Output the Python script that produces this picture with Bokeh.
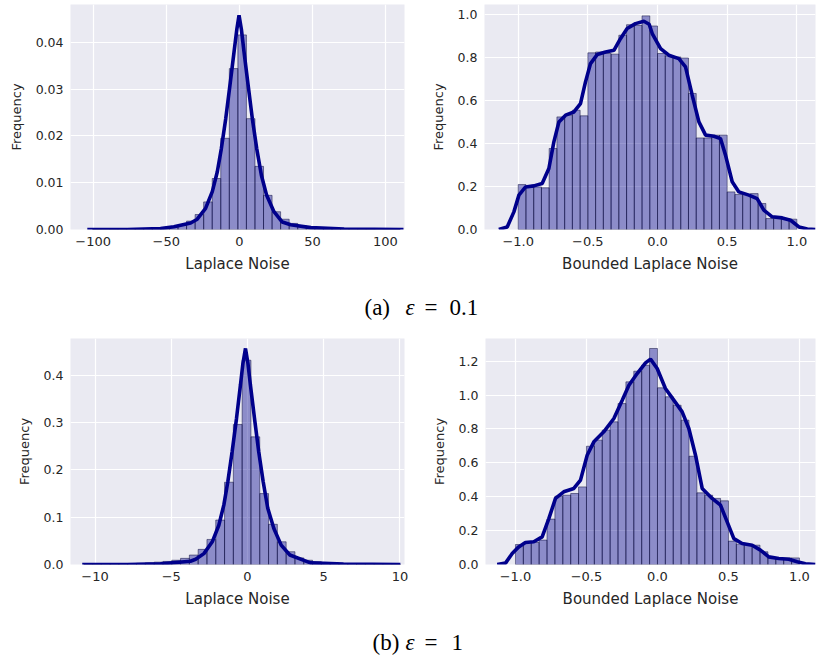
import numpy as np
from bokeh.plotting import figure
from bokeh.models import Range1d, FixedTicker, Label
from bokeh.layouts import column, row
from bokeh.embed import file_html
from bokeh.resources import INLINE

# ---------------- data ----------------
# (a) epsilon = 0.1 : Laplace noise (36 bins)
lap_a_bins = (-100.45, 110.15, 36)
lap_a_freq = [0.00002, 0.00002, 0.00003, 0.00005, 0.00008, 0.00012, 0.0002, 0.0003, 0.0004,
              0.0006, 0.0009, 0.0018, 0.0032, 0.0059, 0.0109, 0.0195, 0.0344, 0.0416,
              0.0237, 0.0135, 0.0073, 0.0038, 0.0022, 0.0013, 0.0008, 0.0005, 0.0003,
              0.0002, 0.00015, 0.0001, 0.00006, 0.00004, 0.00003, 0.00002, 0.00001, 0.00001]
lap_a_kde_x = [-104, -76.7, -53.9, -44.8, -33.3, -28.8, -23.1, -18.5, -15.1, -12.3, -9.3, -6.4,
               -3.6, -1.7, -0.2, 1.4, 3.2, 6.0, 8.9, 11.9, 15.1, 18.7, 23.7, 29.4, 35.1, 48.9,
               71.7, 112.3]
lap_a_kde_y = [0, 0, 0.0002, 0.0006, 0.0014, 0.0022, 0.0045, 0.0081, 0.0123, 0.0173, 0.0237,
               0.0309, 0.038, 0.0428, 0.0458, 0.0428, 0.038, 0.0309, 0.0237, 0.0173, 0.0116,
               0.0073, 0.0038, 0.0016, 0.0010, 0.0004, 0.0001, 0]

# (a) epsilon = 0.1 : Bounded Laplace noise (36 bins on [-1, 1])
blap_a_bins = (-1.0, 1.0, 36)
blap_a_freq = [0.209, 0.198, 0.198, 0.194, 0.377, 0.524, 0.532, 0.555, 0.529, 0.822, 0.826,
               0.819, 0.816, 0.904, 0.953, 0.950, 0.994, 0.947, 0.819, 0.808, 0.803, 0.798,
               0.633, 0.426, 0.426, 0.439, 0.439, 0.175, 0.163, 0.163, 0.167, 0.121, 0.051,
               0.051, 0.051, 0.048]
blap_a_kde_x = [-1.139, -1.079, -1.031, -0.995, -0.947, -0.888, -0.828, -0.780, -0.744, -0.708,
                -0.660, -0.600, -0.553, -0.517, -0.481, -0.433, -0.373, -0.313, -0.266, -0.218,
                -0.158, -0.098, -0.060, -0.038, 0.022, 0.081, 0.153, 0.201, 0.249, 0.297, 0.345,
                0.405, 0.452, 0.488, 0.536, 0.584, 0.656, 0.715, 0.763, 0.823, 0.895, 0.955,
                1.015, 1.075, 1.134]
blap_a_kde_y = [0, 0.012, 0.082, 0.160, 0.198, 0.203, 0.214, 0.284, 0.408, 0.500, 0.532, 0.547,
                0.586, 0.687, 0.772, 0.814, 0.826, 0.834, 0.888, 0.935, 0.958, 0.969, 0.955,
                0.912, 0.842, 0.811, 0.795, 0.757, 0.625, 0.501, 0.439, 0.434, 0.423, 0.346,
                0.222, 0.175, 0.160, 0.144, 0.090, 0.059, 0.054, 0.043, 0.012, 0.002, 0]

# (b) epsilon = 1 : Laplace noise (36 bins)
lap_b_bins = (-10.74, 10.04, 36)
lap_b_freq = [0.0005, 0.0005, 0.0007, 0.001, 0.0013, 0.0018, 0.0025, 0.0035, 0.005, 0.0065,
              0.009, 0.013, 0.020, 0.032, 0.053, 0.094, 0.174, 0.296, 0.432, 0.270, 0.150,
              0.085, 0.048, 0.027, 0.014, 0.009, 0.006, 0.004, 0.003, 0.002, 0.0015, 0.001,
              0.0007, 0.0005, 0.0004, 0.0003]
lap_b_kde_x = [-10.84, -7.9, -5.7, -3.74, -3.4, -2.86, -2.31, -1.88, -1.55, -1.29, -1.01, -0.72,
               -0.46, -0.30, -0.13, 0.03, 0.19, 0.46, 0.74, 1.03, 1.33, 1.73, 2.21, 2.78, 4.13,
               6.3, 10.03]
lap_b_kde_y = [0, 0, 0.0014, 0.007, 0.011, 0.023, 0.048, 0.083, 0.126, 0.175, 0.238, 0.309,
               0.380, 0.425, 0.457, 0.425, 0.380, 0.309, 0.238, 0.175, 0.119, 0.076, 0.041,
               0.020, 0.0035, 0.0007, 0]

# (b) epsilon = 1 : Bounded Laplace noise (36 bins on [-1, 1])
blap_b_bins = (-1.0, 1.0, 36)
blap_b_freq = [0.118, 0.130, 0.130, 0.144, 0.268, 0.403, 0.409, 0.419, 0.458, 0.698, 0.734,
               0.793, 0.842, 0.950, 1.078, 1.141, 1.176, 1.275, 1.043, 0.990, 0.940, 0.852,
               0.639, 0.423, 0.409, 0.390, 0.376, 0.138, 0.120, 0.118, 0.114, 0.075, 0.039,
               0.039, 0.039, 0.039]
blap_b_kde_x = [-1.129, -1.070, -1.023, -0.977, -0.930, -0.871, -0.812, -0.765, -0.718, -0.660,
                -0.589, -0.542, -0.495, -0.448, -0.378, -0.307, -0.248, -0.201, -0.143, -0.084,
                -0.049, -0.002, 0.056, 0.115, 0.174, 0.221, 0.268, 0.315, 0.385, 0.444, 0.491,
                0.538, 0.596, 0.667, 0.725, 0.784, 0.854, 0.925, 0.984, 1.042, 1.113]
blap_b_kde_y = [0, 0.008, 0.065, 0.104, 0.130, 0.134, 0.163, 0.271, 0.390, 0.429, 0.449, 0.498,
                0.645, 0.724, 0.783, 0.862, 0.970, 1.058, 1.127, 1.190, 1.212, 1.157, 1.039,
                0.970, 0.901, 0.803, 0.645, 0.449, 0.390, 0.350, 0.252, 0.153, 0.124, 0.114,
                0.085, 0.045, 0.035, 0.031, 0.016, 0.004, 0]

# ticks
lap_a_xticks = [-100, -50, 0, 50, 100]
lap_a_xlabels = ["\u2212100", "\u221250", "0", "50", "100"]
lap_a_yticks = [0, 0.01, 0.02, 0.03, 0.04]
lap_a_ylabels = ["0.00", "0.01", "0.02", "0.03", "0.04"]
blap_xticks = [-1.0, -0.5, 0.0, 0.5, 1.0]
blap_xlabels = ["\u22121.0", "\u22120.5", "0.0", "0.5", "1.0"]
blap_a_yticks = [0, 0.2, 0.4, 0.6, 0.8, 1.0]
blap_a_ylabels = ["0.0", "0.2", "0.4", "0.6", "0.8", "1.0"]
lap_b_xticks = [-10, -5, 0, 5, 10]
lap_b_xlabels = ["\u221210", "\u22125", "0", "5", "10"]
lap_b_yticks = [0, 0.1, 0.2, 0.3, 0.4]
lap_b_ylabels = ["0.0", "0.1", "0.2", "0.3", "0.4"]
blap_b_yticks = [0, 0.2, 0.4, 0.6, 0.8, 1.0, 1.2]
blap_b_ylabels = ["0.0", "0.2", "0.4", "0.6", "0.8", "1.0", "1.2"]

x_label_lap = "Laplace Noise"
x_label_blap = "Bounded Laplace Noise"
y_label = "Frequency"
caption_a = ("(a)", "\u03b5", "=", "0.1")
caption_b = ("(b)", "\u03b5", "=", "1")

# ---------------- styling ----------------
BG = "#EAEAF2"
TXT = "#262626"
BAR = "#00008B"
FONT = "DejaVu Sans"


def panel(width, height, mbl, mbr, mbt, mbb, xr, yr, bins, freq, kx, ky,
          xt, xtl, yt, ytl, xlabel):
    p = figure(width=width, height=height, x_range=Range1d(*xr), y_range=Range1d(*yr),
               toolbar_location=None, output_backend="svg",
               min_border_left=mbl, min_border_right=mbr,
               min_border_top=mbt, min_border_bottom=mbb)
    p.background_fill_color = BG
    p.border_fill_color = "white"
    p.outline_line_color = None
    edges = np.linspace(bins[0], bins[1], bins[2] + 1)
    p.quad(left=edges[:-1], right=edges[1:], bottom=0, top=freq,
           fill_color=BAR, fill_alpha=0.4, line_color="#000033", line_alpha=0.6,
           line_width=0.8)
    p.line(kx, ky, line_color=BAR, line_width=3.6)
    p.xaxis.ticker = FixedTicker(ticks=xt)
    p.yaxis.ticker = FixedTicker(ticks=yt)
    p.xaxis.major_label_overrides = dict(zip(xt, xtl))
    p.yaxis.major_label_overrides = dict(zip(yt, ytl))
    p.xaxis.axis_label = xlabel
    p.yaxis.axis_label = y_label
    for ax in (p.xaxis[0], p.yaxis[0]):
        ax.axis_line_color = None
        ax.major_tick_line_color = None
        ax.minor_tick_line_color = None
        ax.major_tick_out = 0
        ax.major_tick_in = 0
        ax.minor_tick_out = 0
        ax.minor_tick_in = 0
        ax.major_label_text_font = FONT
        ax.major_label_text_color = TXT
        ax.axis_label_text_font = FONT
        ax.axis_label_text_font_style = "normal"
        ax.axis_label_text_color = TXT
        ax.major_label_standoff = 7
    p.xaxis.major_label_text_font_size = "13px"
    p.yaxis.major_label_text_font_size = "12.5px"
    p.xaxis.axis_label_text_font_size = "15px"
    p.yaxis.axis_label_text_font_size = "13px"
    p.xaxis.axis_label_standoff = 6
    p.yaxis.axis_label_standoff = 9
    p.grid.grid_line_color = "white"
    p.grid.grid_line_width = 1.2
    return p


def caption(width, height, parts, pos, base):
    c = figure(width=width, height=height, x_range=Range1d(0, 1), y_range=Range1d(0, 1),
               toolbar_location=None, output_backend="svg", x_axis_location=None,
               y_axis_location=None, min_border=0)
    c.grid.visible = False
    c.outline_line_color = None
    styles = ["normal", "italic", "normal", "normal"]
    for t, x, s in zip(parts, pos, styles):
        c.add_layout(Label(x=x, y=base, x_units="screen", y_units="screen", text=t,
                           text_font="Liberation Serif", text_font_size="23px",
                           text_font_style=s, text_color="black",
                           text_baseline="alphabetic", text_align="left"))
    return c


p_tl = panel(410, 276, 70, 6, 4, 47, (-115.5, 113.0), (0, 0.0481), lap_a_bins, lap_a_freq,
             lap_a_kde_x, lap_a_kde_y, lap_a_xticks, lap_a_xlabels, lap_a_yticks,
             lap_a_ylabels, x_label_lap)
p_tr = panel(406, 276, 74, 1, 4, 47, (-1.242, 1.134), (0, 1.047), blap_a_bins, blap_a_freq,
             blap_a_kde_x, blap_a_kde_y, blap_xticks, blap_xlabels, blap_a_yticks,
             blap_a_ylabels, x_label_blap)
p_bl = panel(410, 287, 70, 6, 14, 47, (-11.61, 10.30), (0, 0.478), lap_b_bins, lap_b_freq,
             lap_b_kde_x, lap_b_kde_y, lap_b_xticks, lap_b_xlabels, lap_b_yticks,
             lap_b_ylabels, x_label_lap)
p_br = panel(406, 287, 75, 1, 14, 47, (-1.211, 1.113), (0, 1.334), blap_b_bins, blap_b_freq,
             blap_b_kde_x, blap_b_kde_y, blap_xticks, blap_xlabels, blap_b_yticks,
             blap_b_ylabels, x_label_blap)

cap_a = caption(816, 48, caption_a, [364, 405, 424, 449], 17)
cap_b = caption(816, 44, caption_b, [372, 405, 424, 451], 13)

layout = column(row(p_tl, p_tr), cap_a, row(p_bl, p_br), cap_b)

open("out.html", "w").write(file_html(layout, INLINE))
